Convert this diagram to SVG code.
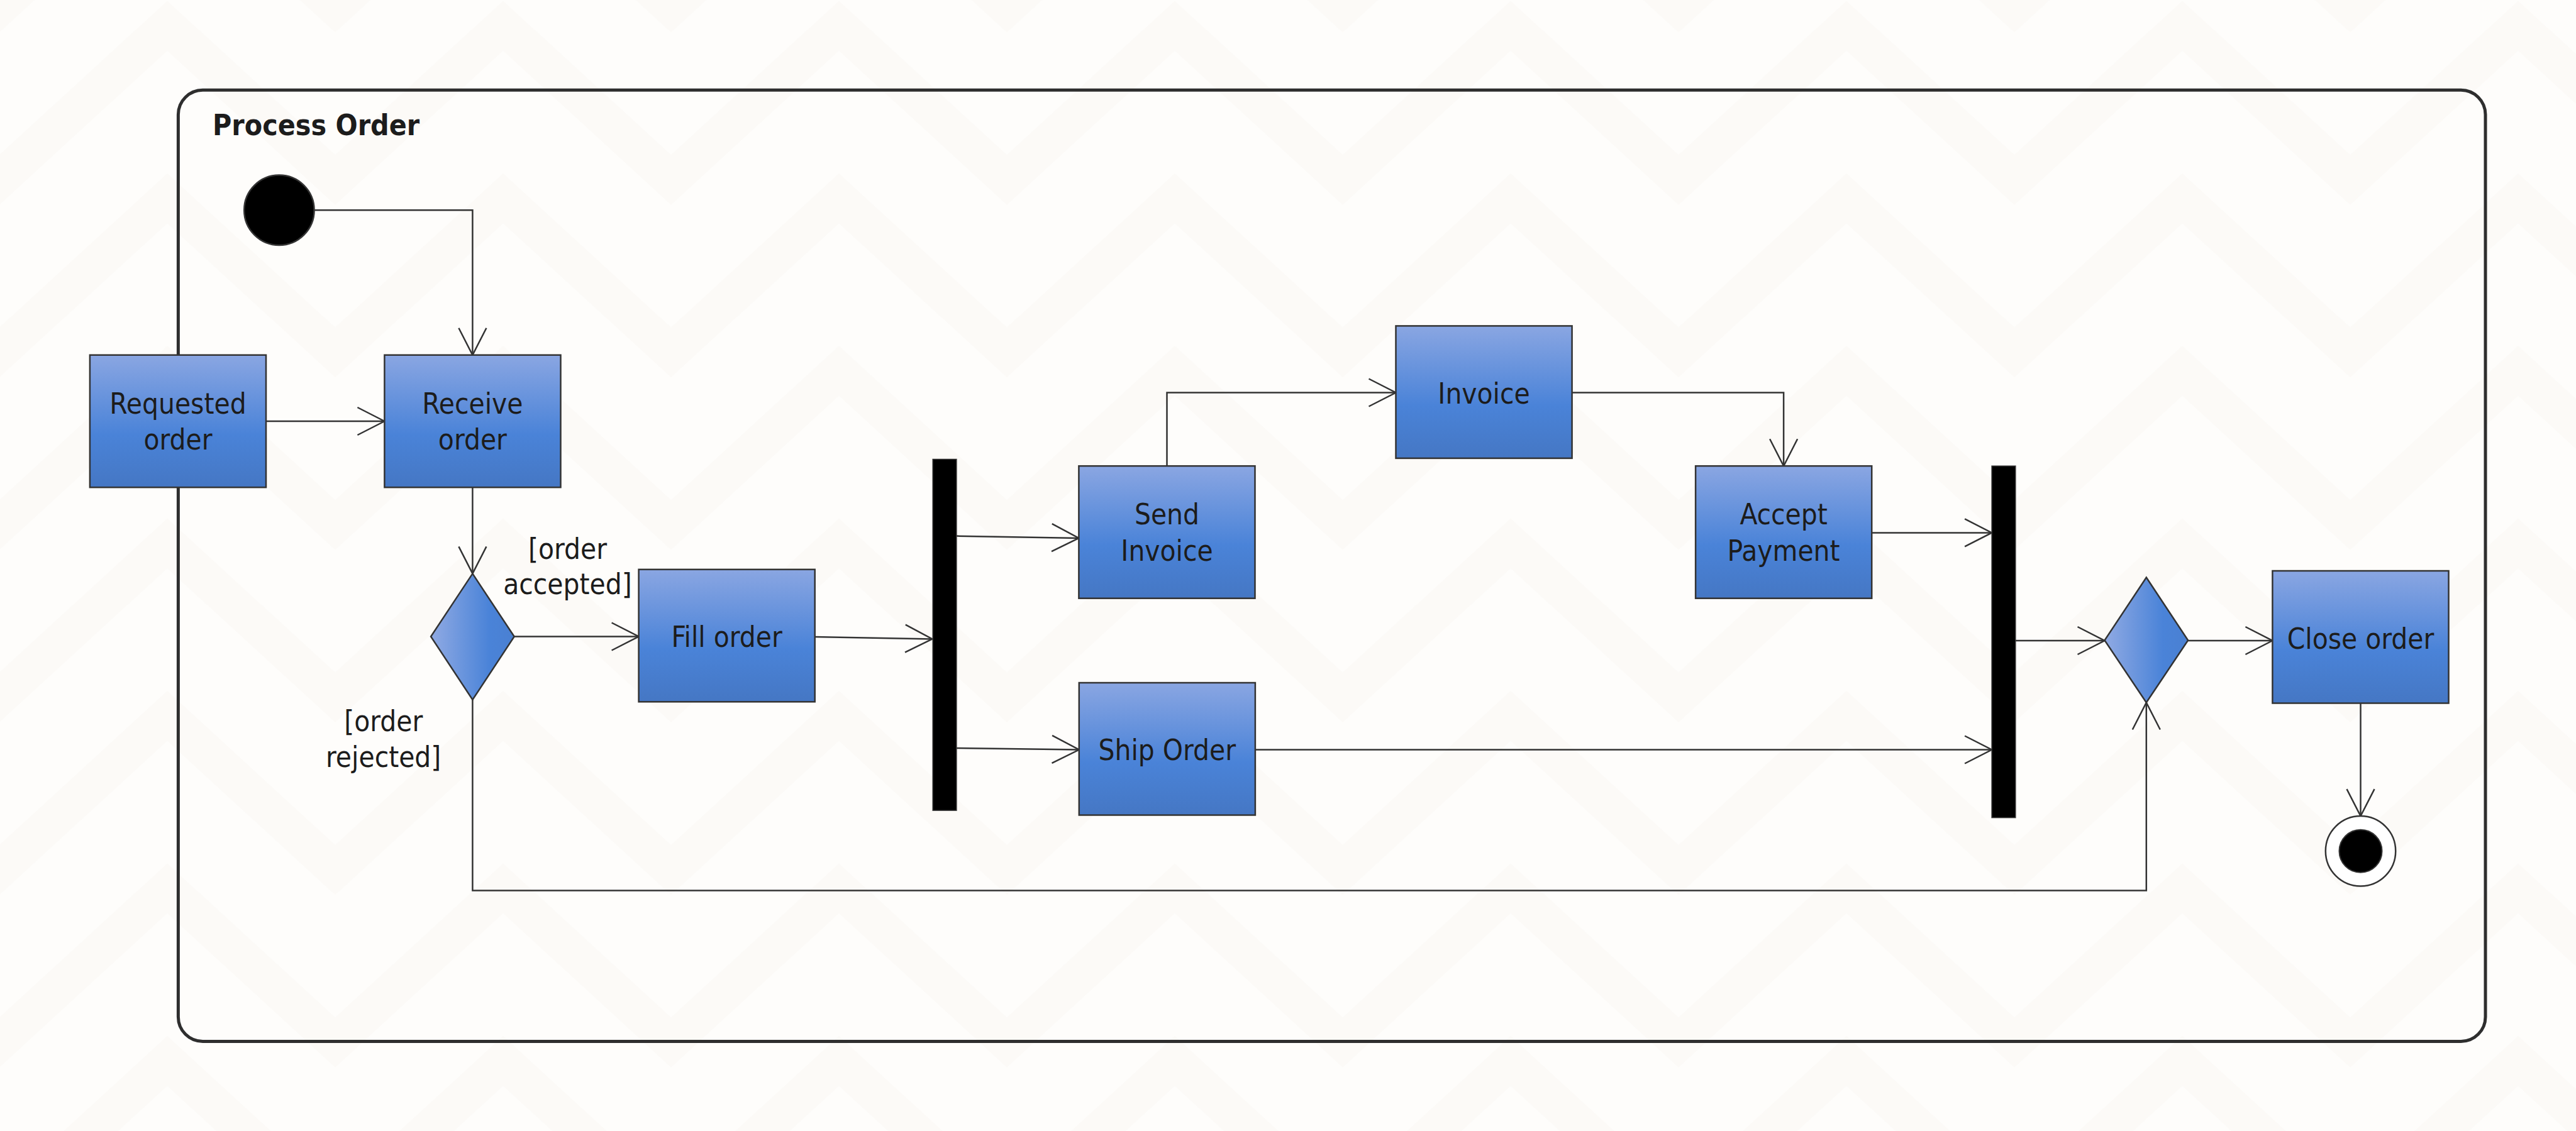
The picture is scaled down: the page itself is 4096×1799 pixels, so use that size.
<svg xmlns="http://www.w3.org/2000/svg" width="4096" height="1799" viewBox="0 0 4096 1799">
<defs>
<pattern id="zig" patternUnits="userSpaceOnUse" x="-1" y="1.6" width="534" height="274.4">
<rect width="534" height="274.4" fill="#fefdfb"/>
<polygon points="0,245 267,0 534,245 534,324 267,79 0,324" fill="#fcfaf7"/>
<polygon points="0,-29.4 267,-274.4 534,-29.4 534,49.6 267,-195.4 0,49.6" fill="#fcfaf7"/>
</pattern>
<linearGradient id="boxg" x1="0" y1="0" x2="0" y2="1">
<stop offset="0" stop-color="#8aa6e2"/>
<stop offset="0.6" stop-color="#4a83d8"/>
<stop offset="1" stop-color="#4577c4"/>
</linearGradient>
<linearGradient id="diag" x1="0" y1="0" x2="1" y2="0">
<stop offset="0" stop-color="#90aae3"/>
<stop offset="0.7" stop-color="#4a83d8"/>
<stop offset="1" stop-color="#4a80d2"/>
</linearGradient>
<marker id="arr" markerUnits="userSpaceOnUse" viewBox="-2 -2 48 48" refX="43" refY="22" markerWidth="48" markerHeight="48" orient="auto">
<path d="M0,0 L43,22 L0,44" fill="none" stroke="#333" stroke-width="2.5"/>
</marker>
<style>
.box{fill:url(#boxg);stroke:#333;stroke-width:2.5}
.dia{fill:url(#diag);stroke:#333;stroke-width:2.5}
.bar{fill:#000;stroke:#333;stroke-width:1.5}
.t{font-family:"DejaVu Sans Condensed","DejaVu Sans",sans-serif;font-stretch:condensed;font-size:45.5px;fill:#1c1c1c;text-anchor:middle}
.title{font-family:"DejaVu Sans Condensed","DejaVu Sans",sans-serif;font-stretch:condensed;font-weight:bold;font-size:46px;fill:#1c1c1c}
.c{fill:none;stroke:#333;stroke-width:2.5;marker-end:url(#arr)}
</style>
</defs>
<rect width="4096" height="1799" fill="url(#zig)"/>
<g id="container">
<rect x="283.4" y="143.3" width="3668.6" height="1513.1" rx="39" ry="39" fill="none" stroke="#2e2e2e" stroke-width="5"/>
<text class="title" x="338" y="215">Process Order</text>
</g>
<g id="connectors">
<path class="c" d="M499.6,334.2 H751.4 V564.7"/>
<path class="c" d="M423,670 H611.4"/>
<path class="c" d="M751.4,775.2 V912.4"/>
<path class="c" d="M817.7,1012.5 H1015.6"/>
<path class="c" d="M1295.7,1013.1 L1482.4,1016.4"/>
<path class="c" d="M1520.9,852.6 L1715.4,855.9"/>
<path class="c" d="M1520.9,1190 L1715.8,1192.5"/>
<path class="c" d="M1855.5,741.2 V624.5 H2219.5"/>
<path class="c" d="M2499.6,624.5 H2836.1 V741.2"/>
<path class="c" d="M2976.2,847.4 H3167.1"/>
<path class="c" d="M1995.9,1192.5 H3167.1"/>
<path class="c" d="M3204.7,1019 H3346.5"/>
<path class="c" d="M3479.1,1019 H3613.4"/>
<path class="c" d="M3753.5,1118.5 V1298.1"/>
<path class="c" d="M751.4,1113 V1416.5 H3412.8 V1117.5"/>
<text class="t" x="902.5" y="889">[order</text>
<text class="t" x="902.5" y="945">accepted]</text>
<text class="t" x="609.7" y="1163">[order</text>
<text class="t" x="609.7" y="1220">rejected]</text>
</g>
<g id="initial">
<circle cx="443.9" cy="334.2" r="55.7" fill="#000" stroke="#333" stroke-width="2.5"/>
</g>
<g id="requested-order">
<rect class="box" x="142.9" y="564.7" width="280.1" height="210.5"/>
<text class="t" x="283" y="657.5">Requested</text>
<text class="t" x="283" y="715">order</text>
</g>
<g id="receive-order">
<rect class="box" x="611.4" y="564.7" width="280.1" height="210.5"/>
<text class="t" x="751.4" y="657.5">Receive</text>
<text class="t" x="751.4" y="715">order</text>
</g>
<g id="decision">
<polygon class="dia" points="751.4,912.4 817.7,1012.5 751.4,1113 685.1,1012.5"/>
</g>
<g id="fill-order">
<rect class="box" x="1015.6" y="905.8" width="280.1" height="210.5"/>
<text class="t" x="1155.6" y="1029">Fill order</text>
</g>
<g id="fork">
<rect class="bar" x="1483.2" y="730.5" width="37.7" height="558.6"/>
</g>
<g id="send-invoice">
<rect class="box" x="1715.4" y="741.2" width="280.1" height="210.5"/>
<text class="t" x="1855.5" y="834.2">Send</text>
<text class="t" x="1855.5" y="891.8">Invoice</text>
</g>
<g id="ship-order">
<rect class="box" x="1715.8" y="1086" width="280.1" height="210.5"/>
<text class="t" x="1855.8" y="1209">Ship Order</text>
</g>
<g id="invoice">
<rect class="box" x="2219.5" y="518.4" width="280.1" height="210.5"/>
<text class="t" x="2359.5" y="641.8">Invoice</text>
</g>
<g id="accept-payment">
<rect class="box" x="2696.1" y="741.2" width="280.1" height="210.5"/>
<text class="t" x="2836.1" y="834.2">Accept</text>
<text class="t" x="2836.1" y="891.8">Payment</text>
</g>
<g id="join">
<rect class="bar" x="3167.1" y="741.2" width="37.7" height="559.4"/>
</g>
<g id="merge">
<polygon class="dia" points="3412.8,918.5 3479.1,1018.5 3412.8,1117.5 3346.5,1018.5"/>
</g>
<g id="close-order">
<rect class="box" x="3613.4" y="908" width="280.1" height="210.5"/>
<text class="t" x="3753.5" y="1031.5">Close order</text>
</g>
<g id="final">
<circle cx="3753.5" cy="1353.8" r="55.7" fill="#fff" stroke="#333" stroke-width="2.5"/>
<circle cx="3753.5" cy="1353.8" r="34" fill="#000" stroke="#333" stroke-width="2"/>
</g>
</svg>
